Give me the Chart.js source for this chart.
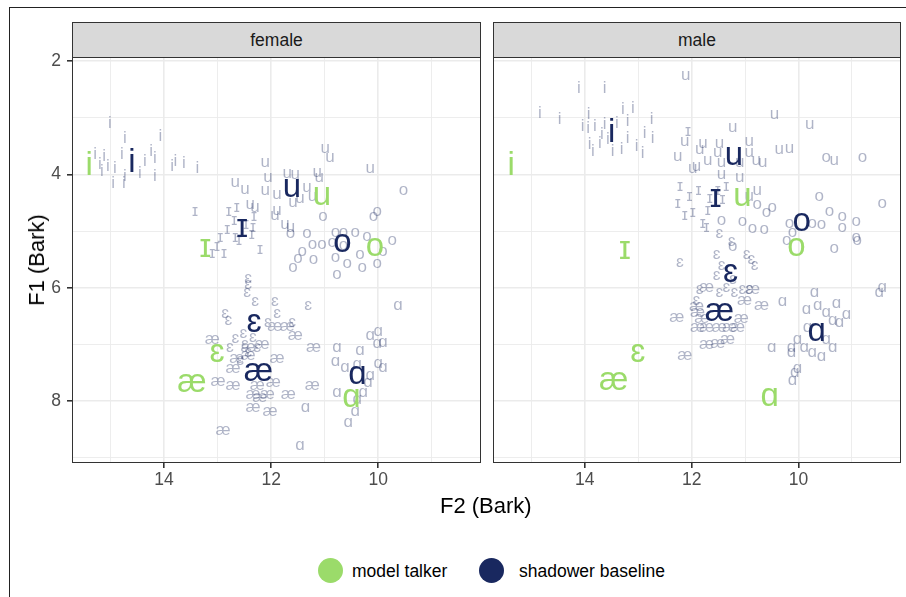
<!DOCTYPE html>
<html>
<head>
<meta charset="utf-8">
<script src="https://cdn.jsdelivr.net/npm/chart.js@4.4.1/dist/chart.umd.min.js"></script>
<style>
  body { margin: 0; background: #fff; font-family: "Liberation Sans", Arial, sans-serif; }
  #wrap { position: relative; width: 906px; height: 597px; overflow: hidden; }
  canvas { position: absolute; top: 0; }
  .frame { position: absolute; left: 9px; top: 7px; width: 1000px; height: 700px; border-left: 1px solid #222; border-top: 1px solid #222; }
  .strip { position: absolute; top: 22px; height: 34px; background: #d9d9d9; border: 1px solid #333; color: #1a1a1a;
    font-size: 17.5px; line-height: 34px; text-align: center; }
  .title { position: absolute; color: #000; font-size: 22px; white-space: nowrap; }
  .key { position: absolute; width: 25px; height: 25px; border-radius: 50%; }
  .keytxt { position: absolute; font-size: 17.5px; color: #000; white-space: nowrap; line-height: 20px; }
</style>
</head>
<body>
<div id="wrap">
  <div class="frame"></div>
  <canvas id="female" width="490" height="500" style="left:0px"></canvas>
  <canvas id="male" width="413" height="500" style="left:493px"></canvas>
  <div class="strip" style="left:72px;width:407px">female</div>
  <div class="strip" style="left:493px;width:406px">male</div>
  <div class="title" style="left:440px;top:493px">F2 (Bark)</div>
  <div class="title" style="left:37px;top:260px;transform:translate(-50%,-50%) rotate(-90deg)">F1 (Bark)</div>
  <div class="key" style="left:318px;top:558px;background:#9bdb6a"></div>
  <div class="keytxt" style="left:352px;top:561px">model talker</div>
  <div class="key" style="left:479px;top:558px;background:#19285f"></div>
  <div class="keytxt" style="left:519px;top:561px">shadower baseline</div>
</div>
<script>
const vowels = ['i', 'ɪ', 'u', 'o', 'ɛ', 'æ', 'ɑ']
const xTicks = [9, 10, 11, 12, 13, 14, 15]
const yTicks = [2, 3, 4, 5, 6, 7, 8, 9]

// means, same order as vowels: F2 then F1 (Bark)
const femaleModelF2 = [15.40, 13.23, 11.05, 10.06, 13.01, 13.48, 10.50]
const femaleModelF1 = [3.80, 5.30, 4.38, 5.28, 7.15, 7.68, 7.95]
const femaleBaseF2 = [14.60, 12.54, 11.61, 10.67, 12.32, 12.24, 10.39]
const femaleBaseF1 = [3.75, 4.95, 4.24, 5.21, 6.62, 7.49, 7.54]
const maleModelF2 = [15.38, 13.25, 11.05, 10.04, 13.01, 13.46, 10.54]
const maleModelF1 = [3.80, 5.34, 4.40, 5.28, 7.15, 7.66, 7.93]
const maleBaseF2 = [13.50, 11.55, 11.21, 9.94, 11.27, 11.48, 9.66]
const maleBaseF1 = [3.22, 4.42, 3.69, 4.84, 5.74, 6.43, 6.78]

// shadower baseline tokens [F2, F1]
const femaleTok_i = [[15.01,3.08],[14.73,3.34],[14.07,3.31],[15.29,3.62],[15.12,3.66],[15.20,3.80],[15.05,3.84],[14.92,3.87],[14.79,3.62],[14.73,4.01],[14.75,4.14],[14.95,4.14],[14.45,3.96],[14.36,3.75],[14.24,3.57],[14.17,3.69],[14.17,4.01],[13.85,3.84],[13.79,3.75],[13.63,3.78],[13.38,3.87],[15.16,3.92]]
const femaleTok_ih = [[13.42,4.66],[12.79,4.66],[12.64,4.58],[12.69,4.81],[12.82,4.98],[12.67,5.11],[12.60,5.16],[12.36,5.07],[12.32,4.75],[12.95,5.11],[13.01,5.28],[13.10,5.39],[12.88,5.39],[12.21,5.33],[12.34,4.93],[12.47,4.88]]
const femaleTok_u = [[10.99,3.54],[10.90,3.71],[12.11,3.80],[10.15,3.89],[12.06,4.06],[11.70,3.98],[11.55,4.01],[11.14,3.96],[11.10,4.05],[12.67,4.15],[12.49,4.26],[12.11,4.28],[11.89,4.36],[11.59,4.49],[11.33,4.24],[11.23,4.40],[12.39,4.54],[12.30,4.59],[11.89,4.63],[11.74,4.89],[11.64,4.93],[11.46,4.42],[11.93,4.72]]
const femaleTok_o = [[9.53,4.28],[10.02,4.66],[10.09,4.75],[11.03,4.75],[11.64,5.04],[11.33,5.04],[10.80,5.02],[10.65,5.02],[10.43,5.02],[10.21,5.09],[9.74,5.16],[11.23,5.23],[11.05,5.23],[10.86,5.21],[11.42,5.37],[11.50,5.48],[11.21,5.51],[10.80,5.46],[10.34,5.42],[9.91,5.37],[10.58,5.58],[10.30,5.64],[10.02,5.58],[11.59,5.65],[10.77,5.76],[10.65,5.25]]
const femaleTok_eh = [[12.43,5.83],[12.43,5.95],[12.45,6.09],[12.30,6.25],[11.93,6.25],[11.31,6.31],[12.86,6.45],[12.80,6.57],[11.89,6.45],[12.06,6.62],[11.61,6.61],[12.67,6.89],[12.52,6.80],[12.34,6.87],[12.49,7.01],[12.77,7.06],[12.26,7.05],[12.43,7.14],[12.58,7.28]]
const femaleTok_ae = [[13.10,6.92],[11.93,6.69],[11.70,6.69],[11.55,6.84],[11.21,7.06],[11.89,7.24],[12.43,7.19],[12.64,7.24],[12.71,7.42],[12.99,7.66],[12.71,7.72],[12.26,7.72],[11.96,7.68],[11.23,7.72],[12.34,7.89],[12.07,7.89],[11.68,7.89],[12.34,8.11],[12.02,8.19],[12.90,8.51],[12.21,7.93],[12.43,7.05],[12.17,7.01]]
const femaleTok_aa = [[9.63,6.31],[10.15,6.84],[10.00,6.78],[10.02,6.98],[9.91,6.96],[10.77,7.06],[10.34,7.10],[10.80,7.31],[10.62,7.40],[10.39,7.36],[10.00,7.33],[9.91,7.40],[10.15,7.54],[10.19,7.68],[10.77,7.84],[10.28,7.84],[10.39,7.98],[10.43,8.19],[10.56,8.37],[11.36,8.11],[11.46,8.78]]

const maleTok_i = [[14.11,2.46],[13.63,2.46],[13.29,2.83],[13.10,2.81],[14.47,3.01],[13.93,2.92],[14.04,3.13],[13.94,3.16],[13.81,3.13],[13.63,3.09],[13.40,3.08],[13.20,3.04],[12.75,3.01],[12.88,3.25],[12.73,3.34],[13.91,3.45],[13.72,3.43],[13.85,3.57],[13.48,3.57],[13.31,3.54],[13.20,3.34],[13.03,3.48],[12.92,3.61],[13.57,3.36],[13.68,3.27],[14.84,2.90]]
const maleTok_ih = [[12.22,4.21],[12.04,4.40],[12.26,4.52],[11.98,4.68],[11.79,4.86],[11.70,4.63],[11.51,4.28],[11.35,4.22],[12.07,3.25],[11.72,4.93],[11.66,4.42],[11.87,4.28],[11.42,4.45],[12.13,4.72]]
const maleTok_u = [[12.11,2.25],[10.45,2.95],[9.79,3.13],[11.23,3.18],[12.13,3.43],[11.79,3.45],[11.48,3.45],[10.92,3.43],[12.26,3.69],[11.85,3.57],[11.51,3.61],[10.92,3.61],[10.36,3.57],[10.17,3.54],[9.33,3.75],[11.91,3.87],[11.70,3.75],[11.44,3.80],[11.10,3.80],[10.79,3.75],[10.67,3.80],[11.44,4.01],[11.10,4.05],[10.77,4.28],[10.92,4.40],[11.98,3.89]]
const maleTok_o = [[9.48,3.71],[8.80,3.71],[9.61,4.40],[8.43,4.51],[10.49,4.59],[10.77,4.54],[9.42,4.66],[9.18,4.75],[8.92,4.84],[10.17,4.86],[9.74,4.86],[9.57,4.89],[9.18,4.93],[11.44,4.81],[11.05,4.84],[10.86,4.95],[10.64,4.98],[8.92,5.11],[10.22,5.16],[10.11,5.02],[9.33,5.30],[11.23,5.28],[8.90,5.16],[10.60,4.68]]
const maleTok_eh = [[12.22,5.56],[11.53,5.42],[11.44,5.60],[10.97,5.42],[10.88,5.51],[10.82,5.60],[11.53,5.78],[11.85,6.04],[11.48,6.08],[11.35,5.99],[11.20,6.08],[11.05,6.04],[10.92,6.04],[11.23,5.86],[11.48,5.04],[11.25,5.19],[11.91,6.22]]
const maleTok_ae = [[12.28,6.52],[11.89,6.43],[11.72,5.99],[11.91,6.34],[11.81,6.54],[11.07,6.54],[10.69,6.31],[11.89,6.71],[11.72,6.71],[11.48,6.71],[11.29,6.71],[11.14,6.71],[11.72,7.01],[11.51,6.98],[11.33,6.92],[12.13,7.19],[10.86,6.04],[11.01,6.22]]
const maleTok_aa = [[10.30,6.25],[9.70,6.08],[9.85,6.39],[9.64,6.31],[9.29,6.27],[9.48,6.43],[9.10,6.48],[9.36,6.57],[9.23,6.61],[8.49,6.08],[8.43,5.99],[10.50,7.05],[10.13,7.05],[10.02,6.92],[9.89,7.05],[9.74,7.14],[9.57,7.22],[9.36,7.06],[10.13,7.15],[10.02,7.42],[10.07,7.49],[10.11,7.63],[9.48,6.92],[9.83,6.71]]

const GREEN = '#9bdb6a'
const NAVY = '#19285f'
const FADED = 'rgba(25,40,95,0.35)'
const FONT = '"Liberation Sans", Arial, "DejaVu Sans", sans-serif'

const toPoints = (pairs) => pairs.map(p => ({ x: p[0], y: p[1] }))

function buildDatasets(tokens, baseF2, baseF1, modelF2, modelF1){
  const sets = []
  tokens.forEach((t, i) => {
    sets.push({ glyph: vowels[i], textColor: FADED, fontSize: 17, data: toPoints(t) })
  })
  vowels.forEach((v, i) => {
    sets.push({ glyph: v, textColor: NAVY, fontSize: 33, data: [{ x: baseF2[i], y: baseF1[i] }] })
  })
  vowels.forEach((v, i) => {
    sets.push({ glyph: v, textColor: GREEN, fontSize: 33, data: [{ x: modelF2[i], y: modelF1[i] }] })
  })
  return sets
}

// draws each point as its vowel symbol, centred on the glyph body
const glyphText = {
  id: 'glyphText',
  afterDatasetsDraw(chart){
    const ctx = chart.ctx
    const a = chart.chartArea
    ctx.save()
    ctx.beginPath()
    ctx.rect(a.left, a.top, a.right - a.left, a.bottom - a.top)
    ctx.clip()
    ctx.textAlign = 'center'
    ctx.textBaseline = 'alphabetic'
    chart.data.datasets.forEach((ds, i) => {
      const meta = chart.getDatasetMeta(i)
      ctx.font = ds.fontSize + 'px ' + FONT
      ctx.fillStyle = ds.textColor
      const shift = (ds.glyph === 'i' ? 0.36 : 0.26) * ds.fontSize
      meta.data.forEach(pt => ctx.fillText(ds.glyph, pt.x, pt.y + shift))
    })
    ctx.restore()
  }
}

const panelBorder = {
  id: 'panelBorder',
  afterDraw(chart){
    const ctx = chart.ctx
    const a = chart.chartArea
    ctx.save()
    ctx.strokeStyle = '#333333'
    ctx.lineWidth = 1
    ctx.strokeRect(a.left + 0.5, a.top + 0.5, a.right - a.left - 1, a.bottom - a.top - 1)
    ctx.restore()
  }
}

const gridColor = '#ebebeb'
const isMajor = (v) => v % 2 === 0

function makeChart(id, datasets, showY, padRight){
  return new Chart(document.getElementById(id), {
    type: 'scatter',
    data: { datasets },
    plugins: [glyphText, panelBorder],
    options: {
      responsive: false,
      animation: false,
      events: [],
      layout: { padding: { top: 57, right: padRight, left: 0, bottom: 0 } },
      elements: { point: { radius: 0, hoverRadius: 0 } },
      plugins: { legend: { display: false }, tooltip: { enabled: false } },
      scales: {
        x: {
          type: 'linear',
          reverse: true,
          min: 8.08,
          max: 15.72,
          afterBuildTicks: s => { s.ticks = xTicks.map(v => ({ value: v })) },
          afterFit: s => { s.height = 37 },
          border: { display: false },
          grid: {
            color: gridColor,
            lineWidth: c => isMajor(c.tick.value) ? 1.6 : 0.9,
            tickColor: c => isMajor(c.tick.value) ? '#333333' : 'rgba(0,0,0,0)',
            tickLength: 5
          },
          ticks: {
            padding: 2,
            color: '#4d4d4d',
            font: { family: FONT, size: 17.5 },
            maxRotation: 0,
            autoSkip: false,
            callback: v => isMajor(v) ? String(v) : ''
          }
        },
        y: {
          type: 'linear',
          reverse: true,
          min: 1.93,
          max: 9.09,
          afterBuildTicks: s => { s.ticks = yTicks.map(v => ({ value: v })) },
          afterFit: s => { s.width = showY ? 72 : 0 },
          border: { display: false },
          grid: {
            color: gridColor,
            lineWidth: c => isMajor(c.tick.value) ? 1.6 : 0.9,
            tickColor: c => showY && isMajor(c.tick.value) ? '#333333' : 'rgba(0,0,0,0)',
            tickLength: 5,
            drawTicks: showY
          },
          ticks: {
            display: showY,
            padding: 6,
            color: '#4d4d4d',
            font: { family: FONT, size: 17.5 },
            autoSkip: false,
            callback: v => isMajor(v) ? String(v) : ''
          }
        }
      }
    }
  })
}

const femaleTokens = [femaleTok_i, femaleTok_ih, femaleTok_u, femaleTok_o, femaleTok_eh, femaleTok_ae, femaleTok_aa]
const maleTokens = [maleTok_i, maleTok_ih, maleTok_u, maleTok_o, maleTok_eh, maleTok_ae, maleTok_aa]

makeChart('female', buildDatasets(femaleTokens, femaleBaseF2, femaleBaseF1, femaleModelF2, femaleModelF1), true, 9)
makeChart('male', buildDatasets(maleTokens, maleBaseF2, maleBaseF1, maleModelF2, maleModelF1), false, 5)
</script>
</body>
</html>
